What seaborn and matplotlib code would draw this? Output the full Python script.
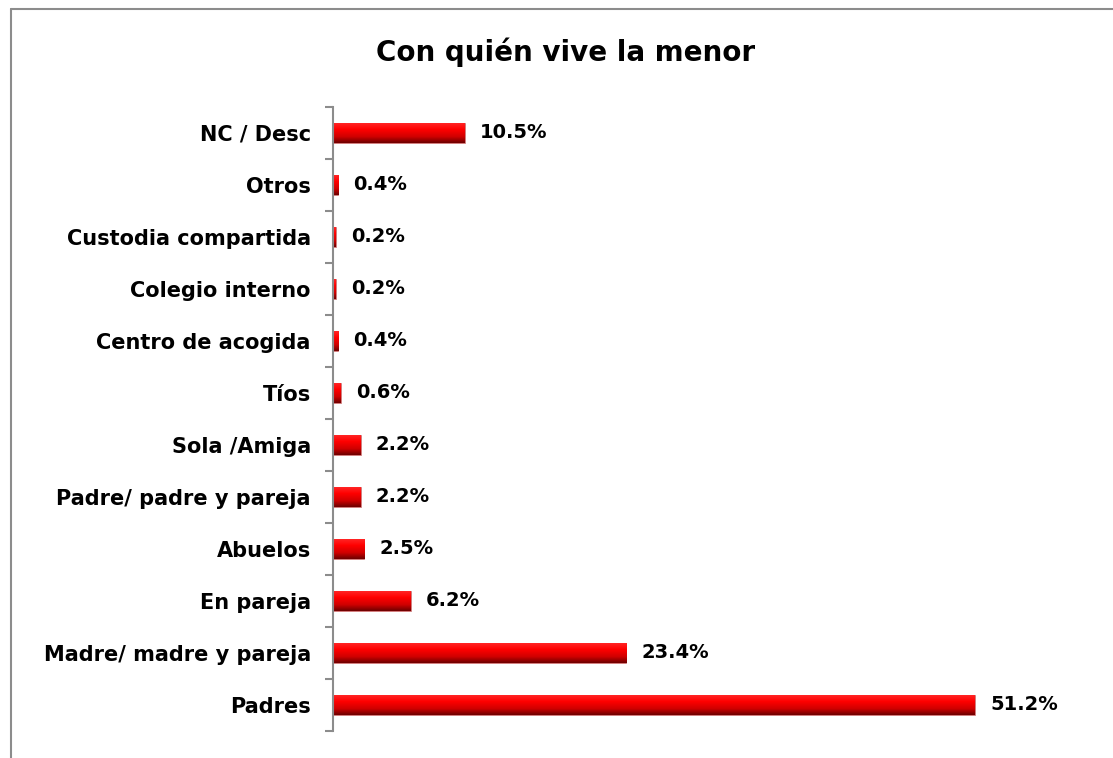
import numpy as np
import pandas as pd
import matplotlib
matplotlib.use("Agg")
import matplotlib.pyplot as plt
import seaborn as sns
from matplotlib.colors import LinearSegmentedColormap
from matplotlib.lines import Line2D

# Data (top to bottom as shown)
categories = ['NC / Desc', 'Otros', 'Custodia compartida', 'Colegio interno',
              'Centro de acogida', 'Tíos', 'Sola /Amiga', 'Padre/ padre y pareja',
              'Abuelos', 'En pareja', 'Madre/ madre y pareja', 'Padres']
values = [10.5, 0.4, 0.2, 0.2, 0.4, 0.6, 2.2, 2.2, 2.5, 6.2, 23.4, 51.2]

data = pd.DataFrame({'cat': categories, 'pct': values})

sns.set_style('white')
plt.rcParams['font.family'] = ['DejaVu Sans']
plt.rcParams['text.color'] = 'black'
plt.rcParams['ytick.labelcolor'] = 'black'

fig = plt.figure(figsize=(11.13, 7.58), dpi=100)
ax = fig.add_axes([333 / 1113, 27 / 758, 727 / 1113, 624 / 758])

sns.barplot(x='pct', y='cat', data=data, color='red', width=0.385,
            orient='h', ax=ax, saturation=1)

# red gradient on each bar
grad = LinearSegmentedColormap.from_list(
    'bar', [(0.0, '#6e0000'), (0.3, '#d00000'), (0.65, '#ff0000'), (1.0, '#ff2a2a')])
g = np.linspace(0, 1, 64).reshape(-1, 1)
for p in ax.patches:
    x0, y0 = p.get_x(), p.get_y()
    w, h = p.get_width(), p.get_height()
    im = ax.imshow(g, cmap=grad, aspect='auto', origin='upper',
                   extent=[x0, x0 + w, y0, y0 + h], zorder=p.get_zorder() + 0.1)
    im.set_clip_path(p)
    p.set_edgecolor('#c08080')
    p.set_linewidth(0.5)

ax.set_xlim(0, 58)
ax.set_ylim(len(categories) - 0.5, -0.5)

for c in ax.containers:
    ax.bar_label(c, fmt='{:.1f}%', padding=11, fontsize=14, fontweight='bold', color='black')

ax.set_xlabel('')
ax.set_ylabel('')
ax.set_xticks([])
for s in ['top', 'right', 'bottom']:
    ax.spines[s].set_visible(False)
ax.spines['left'].set_color('#8c8c8c')
ax.spines['left'].set_linewidth(1.5)

ax.set_yticks(np.arange(len(categories) + 1) - 0.5, minor=True)
ax.tick_params(axis='y', which='major', length=0, pad=16, labelsize=15, labelcolor='black')
ax.tick_params(axis='y', which='minor', length=6, width=1.5, color='#8c8c8c', left=True)
for t in ax.get_yticklabels():
    t.set_fontweight('bold')

fig.text(566 / 1113, 1 - 52 / 758, 'Con quién vive la menor', ha='center', va='center',
         fontsize=20, fontweight='bold', color='black')

# outer border (top and left visible)
fig.add_artist(Line2D([10.5 / 1113, 10.5 / 1113], [0, 1 - 8.5 / 758], color='#8c8c8c', lw=1.5))
fig.add_artist(Line2D([10.5 / 1113, 1], [1 - 8.5 / 758, 1 - 8.5 / 758], color='#8c8c8c', lw=1.5))

fig.savefig('out.png', dpi=100)
